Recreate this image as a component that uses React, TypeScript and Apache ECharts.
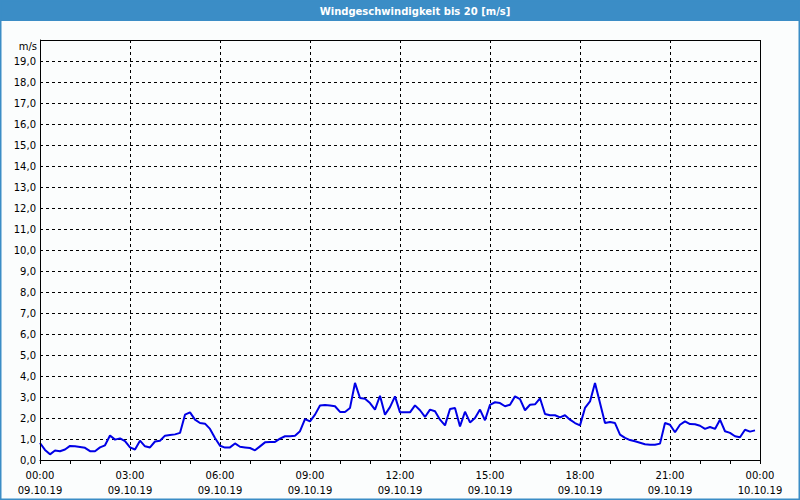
import React, { useEffect, useRef } from "react";
import * as echarts from "echarts";

const TITLE = "Windgeschwindigkeit bis 20 [m/s]";
const UNIT = "m/s";
const DATE_DAY1 = "09.10.19";
const DATE_DAY2 = "10.10.19";

// 10-minute wind speed values (m/s), 09.10.19 00:00 .. 23:50
const windSpeed: number[] = [
  0.81, 0.48, 0.27, 0.45, 0.42, 0.5, 0.67, 0.65, 0.62, 0.58, 0.42, 0.42,
  0.6, 0.7, 1.17, 0.97, 1.03, 0.9, 0.6, 0.5, 0.92, 0.65, 0.6, 0.88,
  0.92, 1.16, 1.19, 1.22, 1.29, 2.16, 2.27, 1.92, 1.76, 1.73, 1.48, 1.05,
  0.68, 0.59, 0.6, 0.79, 0.63, 0.6, 0.57, 0.46, 0.65, 0.84, 0.86, 0.86,
  1.02, 1.13, 1.13, 1.16, 1.37, 1.95, 1.84, 2.16, 2.6, 2.62, 2.6, 2.56,
  2.29, 2.29, 2.48, 3.67, 2.95, 2.92, 2.71, 2.4, 3.06, 2.16, 2.52, 3.03,
  2.27, 2.27, 2.27, 2.6, 2.37, 2.05, 2.4, 2.32, 1.92, 1.65, 2.43, 2.48,
  1.6, 2.3, 1.79, 2.0, 2.4, 1.89, 2.63, 2.75, 2.71, 2.56, 2.63, 3.03,
  2.9, 2.37, 2.63, 2.65, 2.94, 2.19, 2.13, 2.13, 2.03, 2.13, 1.92, 1.76,
  1.65, 2.48, 2.79, 3.67, 2.71, 1.76, 1.81, 1.76, 1.21, 1.05, 0.95, 0.89,
  0.82, 0.75, 0.73, 0.73, 0.78, 1.76, 1.68, 1.32, 1.68, 1.84, 1.71, 1.7,
  1.63, 1.48, 1.57, 1.48, 1.92, 1.37, 1.29, 1.13, 1.08, 1.44, 1.35, 1.41,
];

// time categories every 10 minutes, 00:00 .. 24:00
const pad = (n: number) => (n < 10 ? "0" + n : "" + n);
const timeCategories: string[] = [];
for (let i = 0; i <= 144; i++) {
  const h = Math.floor(i / 6) % 24;
  const m = (i % 6) * 10;
  timeCategories.push(pad(h) + ":" + pad(m));
}

const Y_MIN = 0;
const Y_MAX = 20;
const Y_STEP = 1;

const FONT = "DejaVu Sans";

export default function App() {
  const ref = useRef<HTMLDivElement>(null);

  useEffect(() => {
    if (!ref.current) return;
    const chart = echarts.init(ref.current, undefined, { renderer: "svg" });
    chart.setOption({
      animation: false,
      backgroundColor: "#fbfdfd",
      textStyle: { fontFamily: FONT },
      graphic: [
        {
          type: "rect",
          shape: { x: 0, y: 0, width: 800, height: 21 },
          style: { fill: "#3b8dc6" },
          silent: true,
          z: 0,
        },
        {
          type: "rect",
          shape: { x: 0.75, y: 0.75, width: 798.5, height: 498.5 },
          style: { fill: "none", stroke: "#3b8dc6", lineWidth: 1.5 },
          silent: true,
          z: 0,
        },
        {
          type: "text",
          x: 415,
          y: 11,
          style: {
            text: TITLE,
            fill: "#ffffff",
            font: `bold 10px "${FONT}"`,
            textAlign: "center",
            textVerticalAlign: "middle",
          },
          silent: true,
          z: 1,
        },
        {
          type: "text",
          x: 37,
          y: 46,
          style: {
            text: UNIT,
            fill: "#000000",
            font: `10px "${FONT}"`,
            textAlign: "right",
            textVerticalAlign: "middle",
          },
          silent: true,
        },
        {
          type: "rect",
          shape: { x: 40.5, y: 40.5, width: 720, height: 420 },
          style: { fill: "none", stroke: "#000", lineWidth: 1 },
          silent: true,
          z: 10,
        },
      ],
      grid: { left: 40, top: 40, width: 720, height: 420, show: false },
      xAxis: {
        type: "category",
        data: timeCategories,
        boundaryGap: false,
        axisLine: { show: true, lineStyle: { color: "#000", width: 1 } },
        axisTick: {
          show: true,
          length: 4,
          interval: (i: number) => i % 6 === 0,
          lineStyle: { color: "#000" },
        },
        axisLabel: {
          interval: (i: number) => i % 18 === 0,
          color: "#000",
          fontSize: 10,
          fontFamily: FONT,
          lineHeight: 15,
          margin: 8,
          formatter: (v: string, i: number) =>
            v + "\n" + (i === 144 ? DATE_DAY2 : DATE_DAY1),
        },
        splitLine: {
          show: true,
          interval: (i: number) => i % 18 === 0,
          lineStyle: { color: "#000", type: [3, 3], width: 1 },
        },
      },
      yAxis: {
        type: "value",
        min: Y_MIN,
        max: Y_MAX,
        interval: Y_STEP,
        axisLine: { show: true, lineStyle: { color: "#000", width: 1 } },
        axisTick: { show: false },
        axisLabel: {
          color: "#000",
          fontSize: 10,
          fontFamily: FONT,
          margin: 4,
          formatter: (v: number) =>
            v >= Y_MAX ? "" : v.toFixed(1).replace(".", ","),
        },
        splitLine: {
          show: true,
          lineStyle: { color: "#000", type: [3, 3], width: 1 },
        },
      },
      series: [
        {
          type: "line",
          data: windSpeed,
          showSymbol: false,
          symbol: "none",
          lineStyle: { color: "#0000e6", width: 2 },
          z: 5,
        },
      ],
    });
    return () => chart.dispose();
  }, []);

  return (
    <div
      ref={ref}
      style={{ position: "fixed", left: 0, top: 0, width: 800, height: 500 }}
    />
  );
}
